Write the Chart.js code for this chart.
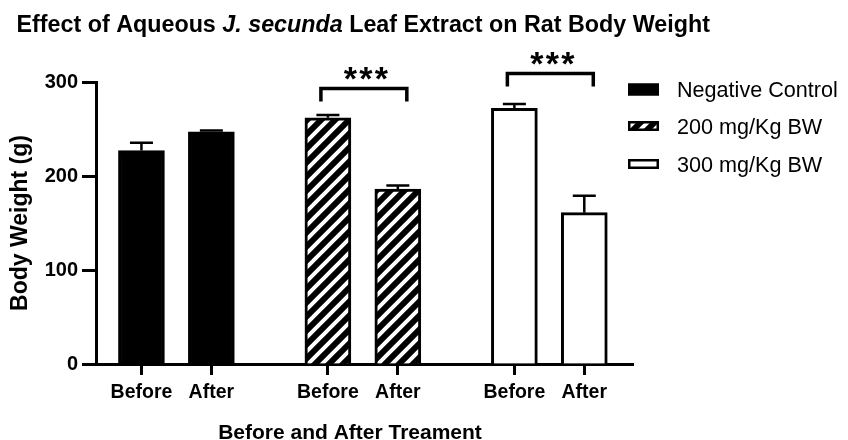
<!DOCTYPE html>
<html><head><meta charset="utf-8">
<script src="https://cdn.jsdelivr.net/npm/chart.js@4.4.1/dist/chart.umd.min.js"></script>
<style>html,body{margin:0;padding:0;background:#fff}#wrap{width:848px;height:440px}</style>
</head><body><div id="wrap"><canvas id="c" width="848" height="440"></canvas></div>
<script>
// ---- data ----
const titleParts = ['Effect of Aqueous ', 'J. secunda', ' Leaf Extract on Rat Body Weight'];
const groups = ['Negative Control', '200 mg/Kg BW', '300 mg/Kg BW'];
const phases = ['Before', 'After'];
const negativeControl = [227, 247];
const dose200 = [262, 186];
const dose300 = [272, 161];
const negativeControlSem = [8.5, 1.5];
const dose200Sem = [3, 4];
const dose300Sem = [4.5, 18];
const yTicks = [0, 100, 200, 300];
const significance = ['', '***', '***'];
const bracketLevels = [null, 293, 309];
const yTitle = 'Body Weight (g)';
const xTitle = 'Before and After Treament';

// ---- build ----
const FONT = "'Liberation Sans', Arial, Helvetica, sans-serif";
Chart.defaults.font.family = FONT;
Chart.defaults.color = '#000';
const seriesValues = [negativeControl, dose200, dose300];
const seriesSem = [negativeControlSem, dose200Sem, dose300Sem];
const groupGap = 2 / 3;
const pos = (g, p) => g * (phases.length + groupGap) + p;
const tickPositions = [];
const tickLabels = [];
groups.forEach((g, i) => phases.forEach((p, j) => { tickPositions.push(pos(i, j)); tickLabels.push(p); }));

const canvas = document.getElementById('c');
const ctx0 = canvas.getContext('2d');
function makeHatch() {
  const s = 14;
  const c = document.createElement('canvas');
  c.width = s; c.height = s;
  const x = c.getContext('2d');
  x.fillStyle = '#000'; x.fillRect(0, 0, s, s);
  x.strokeStyle = '#fff'; x.lineWidth = 4; x.lineCap = 'square';
  x.beginPath();
  x.moveTo(-s / 2, s / 2); x.lineTo(s / 2, -s / 2);
  x.moveTo(0, s); x.lineTo(s, 0);
  x.moveTo(s / 2, s * 1.5); x.lineTo(s * 1.5, s / 2);
  x.stroke();
  return ctx0.createPattern(c, 'repeat');
}
const hatch = makeHatch();
const fills = ['#000', hatch, '#fff'];

const extrasPlugin = {
  id: 'extras',
  afterDatasetsDraw(chart) {
    const ctx = chart.ctx, ys = chart.scales.y, xs = chart.scales.x;
    ctx.save();
    ctx.strokeStyle = '#000';
    // error bars (upper SEM)
    ctx.lineWidth = 2.5;
    chart.data.datasets.forEach((ds, i) => {
      chart.getDatasetMeta(i).data.forEach((el, j) => {
        const top = ys.getPixelForValue(seriesValues[i][j] + seriesSem[i][j]);
        ctx.beginPath();
        ctx.moveTo(el.x, el.y); ctx.lineTo(el.x, top);
        ctx.moveTo(el.x - 11.5, top); ctx.lineTo(el.x + 11.5, top);
        ctx.stroke();
      });
    });
    // significance brackets
    ctx.lineWidth = 3.5; ctx.lineJoin = 'miter';
    significance.forEach((s, i) => {
      if (!s) return;
      const l = xs.getPixelForValue(pos(i, 0)) - 7;
      const r = xs.getPixelForValue(pos(i, phases.length - 1)) + 9;
      const t = ys.getPixelForValue(bracketLevels[i]);
      ctx.beginPath();
      ctx.moveTo(l, t + 13); ctx.lineTo(l, t); ctx.lineTo(r, t); ctx.lineTo(r, t + 13);
      ctx.stroke();
      ctx.fillStyle = '#000';
      ctx.font = 'bold 34px ' + FONT;
      ctx.textAlign = 'center'; ctx.textBaseline = 'alphabetic';
      const m = ctx.measureText('*');
      const base = t - 9 - m.actualBoundingBoxDescent;
      const cx = (l + r) / 2 + 2;
      [-15.5, 0, 15.5].forEach(dx => ctx.fillText('*', cx + dx, base));
    });
    ctx.restore();
  },
  afterDraw(chart) {
    const ctx = chart.ctx;
    ctx.save();
    ctx.fillStyle = '#000';
    ctx.textBaseline = 'alphabetic'; ctx.textAlign = 'left';
    // title
    let x = 16.5;
    const fonts = ['bold 23.3px ' + FONT, 'italic bold 23.3px ' + FONT, 'bold 23.3px ' + FONT];
    titleParts.forEach((t, i) => { ctx.font = fonts[i]; ctx.fillText(t, x, 31.5); x += ctx.measureText(t).width; });
    // x axis title
    ctx.font = 'bold 21px ' + FONT; ctx.textAlign = 'center';
    ctx.fillText(xTitle, 350, 438.5);
    // legend
    const rows = [89.5, 126, 164];
    const hs = [12, 10, 10];
    groups.forEach((g, i) => {
      const y = rows[i], h = hs[i];
      ctx.fillStyle = fills[i];
      ctx.fillRect(628, y - h / 2, 31, h);
      ctx.strokeStyle = '#000'; ctx.lineWidth = 2.5;
      ctx.strokeRect(629.25, y - h / 2 + 1.25, 28.5, h - 2.5);
      ctx.fillStyle = '#000';
      ctx.font = '21.6px ' + FONT; ctx.textAlign = 'left';
      ctx.fillText(g, 677, y + 7.5);
    });
    ctx.restore();
  }
};

new Chart(canvas, {
  type: 'bar',
  data: {
    datasets: groups.map((g, i) => ({
      label: g,
      data: phases.map((p, j) => ({ x: pos(i, j), y: seriesValues[i][j] })),
      backgroundColor: fills[i],
      borderColor: '#000',
      borderWidth: 3,
      borderSkipped: 'start',
      barThickness: 46,
      grouped: false
    }))
  },
  options: {
    responsive: false,
    devicePixelRatio: 1,
    animation: false,
    layout: { padding: { top: 82, right: 215, left: 0, bottom: 0 } },
    plugins: { legend: { display: false }, title: { display: false }, tooltip: { enabled: false } },
    scales: {
      x: {
        type: 'linear',
        offset: false,
        min: -0.65, max: 7.03,
        afterFit(s) { s.height = 76; },
        afterBuildTicks(s) { s.ticks = tickPositions.map(v => ({ value: v })); },
        ticks: {
          autoSkip: false, maxRotation: 0, padding: 6,
          font: { weight: 'bold', size: 19.5 }, color: '#000',
          callback: (v, i) => tickLabels[i]
        },
        grid: { offset: false, drawOnChartArea: false, drawTicks: true, tickLength: 11, tickWidth: 3, color: '#000' },
        border: { display: true, color: '#000', width: 3 }
      },
      y: {
        min: 0, max: 300,
        afterFit(s) { s.width = 96; },
        afterBuildTicks(s) { s.ticks = yTicks.map(v => ({ value: v })); },
        ticks: { padding: 4, font: { weight: 'bold', size: 20 }, color: '#000' },
        grid: { drawOnChartArea: false, drawTicks: true, tickLength: 14, tickWidth: 3, color: '#000' },
        border: { display: true, color: '#000', width: 3 },
        title: { display: true, text: yTitle, font: { weight: 'bold', size: 23 }, color: '#000', padding: { top: 7, bottom: 0 } }
      }
    }
  },
  plugins: [extrasPlugin]
});
</script></body></html>
